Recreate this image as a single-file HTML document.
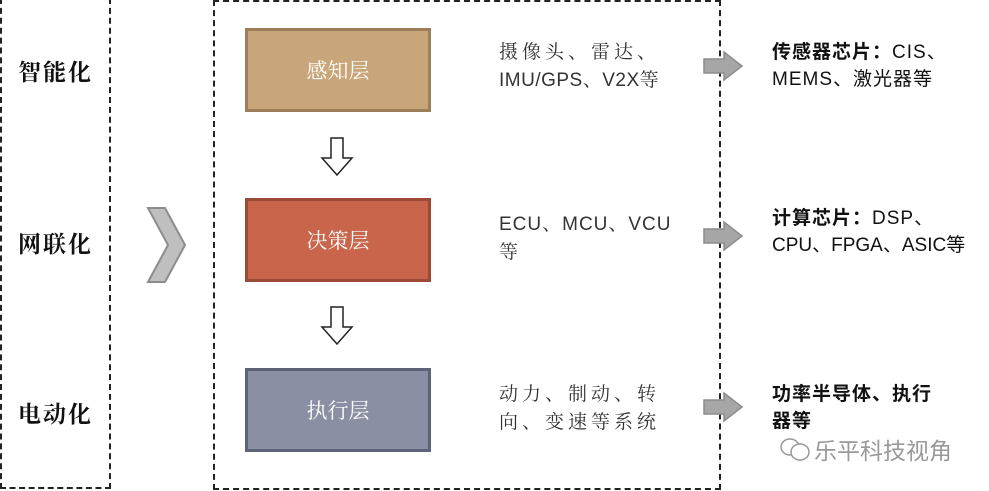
<!DOCTYPE html>
<html><head><meta charset="utf-8"><style>
body{margin:0;width:989px;height:491px;background:#fff;position:relative;overflow:hidden;font-family:"Liberation Sans","Noto Serif CJK SC","Noto Sans CJK SC",sans-serif;}
.a{position:absolute}
.dash{border:2px dashed #222;box-sizing:border-box}
.box{position:absolute;left:245px;width:186px;height:84px;box-sizing:border-box;border:3px solid;color:#fff;font-size:21px;display:flex;align-items:center;justify-content:center;font-family:"Noto Serif CJK SC",serif}
.lt{position:absolute;left:18px;font-size:23px;letter-spacing:2px;font-family:"Noto Serif CJK SC",serif;color:#111;font-weight:bold}
.mt{position:absolute;left:499px;font-size:19px;line-height:28px;color:#333;letter-spacing:4px;font-family:"Liberation Sans","Noto Serif CJK SC",sans-serif;white-space:nowrap}
.l{letter-spacing:1px}
.rt{position:absolute;left:772px;font-size:19px;line-height:27px;color:#111;font-weight:bold;letter-spacing:1px;font-family:"Liberation Sans","Noto Sans CJK SC",sans-serif;white-space:nowrap}
</style></head><body>
<div class="a dash" style="left:0;top:-2px;width:111px;height:491px"></div>
<div class="a dash" style="left:213px;top:0;width:508px;height:490px"></div>
<div class="lt" style="top:54px">智能化</div>
<div class="lt" style="top:226px">网联化</div>
<div class="lt" style="top:396px">电动化</div>
<svg class="a" style="left:0;top:0" width="989" height="491">
<polygon points="148,208 165,208 185,245 165,282 148,282 168,245" fill="#bfbfbf" stroke="#8c8c8c" stroke-width="2"/>
<polygon points="331,138 343,138 343,158 352,158 337,175 322,158 331,158" fill="#fff" stroke="#222" stroke-width="1.5"/>
<polygon points="331,307 343,307 343,327 352,327 337,344 322,327 331,327" fill="#fff" stroke="#222" stroke-width="1.5"/>
<g fill="#a6a6a6" stroke="#8c8c8c" stroke-width="1.5">
<polygon points="704,59 724,59 724,52 742,66 724,80 724,73 704,73"/>
<polygon points="704,229 724,229 724,222 742,236 724,250 724,243 704,243"/>
<polygon points="704,400 724,400 724,393 742,407 724,421 724,414 704,414"/>
</g>
<g fill="none" stroke="#999" stroke-width="1.5"><ellipse cx="790" cy="447" rx="9" ry="8"/><ellipse cx="800" cy="452" rx="9" ry="8" fill="#fff"/></g>
</svg>
<div class="box" style="top:28px;background:#c9a67a;border-color:#9c7f5a">感知层</div>
<div class="box" style="top:198px;background:#c9654a;border-color:#9c4a35">决策层</div>
<div class="box" style="top:368px;background:#8b8fa3;border-color:#5f6378">执行层</div>
<div class="mt" style="top:39px">摄像头、雷达、<br><span style="letter-spacing:0.5px">IMU/GPS、V2X等</span></div>
<div class="mt" style="top:211px"><span style="letter-spacing:1px">ECU、MCU、VCU</span><br>等</div>
<div class="mt" style="top:381px">动力、制动、转<br>向、变速等系统</div>
<div class="rt" style="top:39px">传感器芯片：<span style="font-weight:normal">CIS、</span><br><span style="font-weight:normal">MEMS、激光器等</span></div>
<div class="rt" style="top:205px">计算芯片：<span style="font-weight:normal">DSP、</span><br><span style="font-weight:normal;letter-spacing:0px">CPU、FPGA、ASIC等</span></div>
<div class="rt" style="top:381px">功率半导体、执行<br>器等</div>
<div class="a" style="left:814px;top:432px;font-size:23px;color:#999;font-family:'Noto Sans CJK SC',sans-serif">乐平科技视角</div>
</body></html>
